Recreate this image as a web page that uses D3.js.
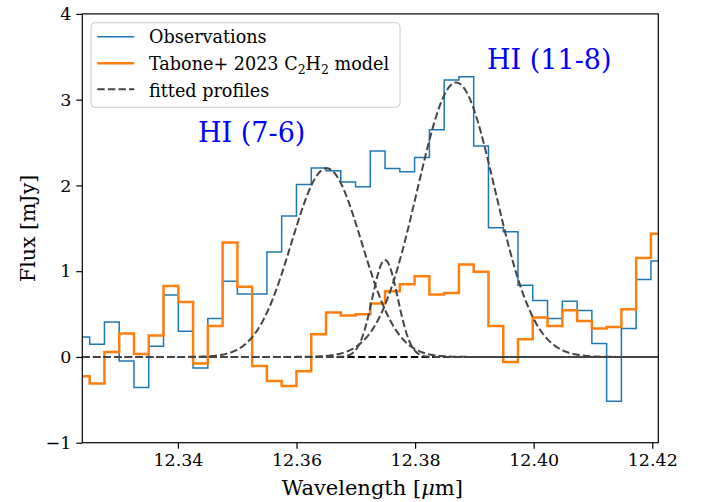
<!DOCTYPE html>
<html lang="en">
<head>
<meta charset="utf-8">
<title>HI lines</title>
<script src="https://d3js.org/d3.v7.min.js"></script>
<style>
  html, body { margin: 0; padding: 0; background: #fff; }
  svg { display: block; font-family: "DejaVu Serif", serif; }
  .tick text { font-family: "DejaVu Serif", serif; font-size: 17.5px; fill: #000; }
  .tick line { stroke: #000; stroke-width: 1.2; }
  .domain { display: none; }
</style>
</head>
<body>
<script>
// wavelength grid (bin centres, micron)
var wave = [12.32387, 12.32636, 12.32885, 12.33134, 12.33383, 12.33632, 12.33882, 12.34131,
            12.34380, 12.34629, 12.34878, 12.35127, 12.35376, 12.35625, 12.35874, 12.36124,
            12.36373, 12.36622, 12.36871, 12.37120, 12.37369, 12.37618, 12.37867, 12.38116,
            12.38366, 12.38615, 12.38864, 12.39113, 12.39362, 12.39611, 12.39860, 12.40109,
            12.40358, 12.40608, 12.40857, 12.41106, 12.41355, 12.41604, 12.41853, 12.42102];
// observed flux (mJy)
var obs = [0.233, 0.148, 0.408, -0.047, -0.357, 0.125, 0.723, 0.30, -0.128, 0.448,
           0.883, 0.735, 0.735, 1.225, 1.642, 2.012, 2.202, 2.17, 2.04, 1.984,
           2.40, 2.198, 2.159, 2.327, 2.649, 3.229, 3.267, 2.459, 1.505, 1.459,
           0.837, 0.658, 0.448, 0.65, 0.541, 0.156, -0.517, 0.331, 0.903, 1.12];
// Tabone+ 2023 C2H2 model (mJy)
var model = [-0.225, -0.31, 0.058, 0.273, 0.035, 0.25, 0.828, 0.642, -0.077, 0.362,
             1.333, 0.817, -0.105, -0.28, -0.338, -0.167, 0.265, 0.518, 0.483, 0.498,
             0.623, 0.767, 0.848, 0.942, 0.728, 0.747, 1.078, 0.992, 0.362, -0.058,
             0.207, 0.46, 0.362, 0.545, 0.42, 0.331, 0.35, 0.557, 1.155, 1.435];
// fitted gaussian profiles
var gCenter = [12.36508, 12.37493, 12.38693];
var gAmp    = [2.2, 1.13, 3.2];
var gSigma  = [0.005914, 0.002153, 0.00658];

var xTicks = [12.34, 12.36, 12.38, 12.40, 12.42];
var yTicks = [-1, 0, 1, 2, 3, 4];

var W = 702, H = 502;
var L = 82.3, R = 658.3, T = 13.9, B = 442.7;

var svg = d3.select("body").append("svg").attr("width", W).attr("height", H);

var x = d3.scaleLinear().domain([wave[0], wave[wave.length - 1]]).range([L, R]);
var y = d3.scaleLinear().domain([-1, 4]).range([B, T]);

svg.append("clipPath").attr("id", "clip")
  .append("rect").attr("x", L).attr("y", T).attr("width", R - L).attr("height", B - T);

var plot = svg.append("g").attr("clip-path", "url(#clip)");

var step = d3.line().curve(d3.curveStep)
  .x(function(d){ return x(d[0]); })
  .y(function(d){ return y(d[1]); });

plot.append("path")
  .attr("d", step(wave.map(function(w, i){ return [w, obs[i]]; })))
  .attr("fill", "none").attr("stroke", "#1f77b4").attr("stroke-width", 1.5);

plot.append("path")
  .attr("d", step(wave.map(function(w, i){ return [w, model[i]]; })))
  .attr("fill", "none").attr("stroke", "#ff7f0e").attr("stroke-width", 2.5);

// zero level
plot.append("line")
  .attr("x1", L).attr("x2", R).attr("y1", y(0)).attr("y2", y(0))
  .attr("stroke", "#000").attr("stroke-width", 2).attr("stroke-dasharray", "7.4,3.2");

// gaussian profiles
var smooth = d3.line()
  .x(function(d){ return x(d[0]); })
  .y(function(d){ return y(d[1]); });
var xs = d3.range(0, 401).map(function(k){ return x.invert(L + (R - L) * k / 400); });
gCenter.forEach(function(c, j){
  var pts = xs.map(function(w){
    return [w, gAmp[j] * Math.exp(-0.5 * Math.pow((w - c) / gSigma[j], 2))];
  });
  plot.append("path").attr("d", smooth(pts))
    .attr("fill", "none").attr("stroke", "#444").attr("stroke-width", 2)
    .attr("stroke-dasharray", "7.4,3.2");
});

// axes
var xAxis = svg.append("g").attr("transform", "translate(0," + B + ")")
  .call(d3.axisBottom(x).tickValues(xTicks).tickSize(6).tickPadding(5)
        .tickFormat(d3.format(".2f")));
xAxis.selectAll(".tick text").attr("dy", "0.71em");

svg.append("g").attr("transform", "translate(" + L + ",0)")
  .call(d3.axisLeft(y).tickValues(yTicks).tickSize(6).tickPadding(5)
        .tickFormat(function(d){ return d < 0 ? "\u2212" + Math.abs(d) : d; }));

svg.append("rect").attr("x", L).attr("y", T).attr("width", R - L).attr("height", B - T)
  .attr("fill", "none").attr("stroke", "#000").attr("stroke-width", 1.2);

// line labels
svg.append("text").attr("x", 198).attr("y", 142).attr("fill", "#0000ff")
  .style("font-size", "27px").text("HI (7-6)");
svg.append("text").attr("x", 487).attr("y", 69).attr("fill", "#0000ff")
  .style("font-size", "27px").text("HI (11-8)");

// axis titles
svg.append("text").attr("x", (L + R) / 2 + 2).attr("y", 495).attr("text-anchor", "middle")
  .style("font-size", "21px")
  .html('Wavelength [<tspan font-style="italic">\u03bc</tspan>m]');
svg.append("text").attr("transform", "translate(35," + ((T + B) / 2) + ") rotate(-90)")
  .attr("text-anchor", "middle").style("font-size", "20.5px").text("Flux [mJy]");

// legend
var lg = svg.append("g");
lg.append("rect").attr("x", 91).attr("y", 22.7).attr("width", 309).attr("height", 84.6)
  .attr("rx", 4).attr("fill", "#fff").attr("fill-opacity", 0.8)
  .attr("stroke", "#ccc").attr("stroke-width", 1);
var items = [
  {y: 36.7, stroke: "#1f77b4", w: 1.5, dash: null},
  {y: 63.3, stroke: "#ff7f0e", w: 2.5, dash: null},
  {y: 89.3, stroke: "#444", w: 2, dash: "7.4,3.2"}
];
items.forEach(function(it){
  lg.append("line").attr("x1", 97.3).attr("x2", 134.3).attr("y1", it.y).attr("y2", it.y)
    .attr("stroke", it.stroke).attr("stroke-width", it.w).attr("stroke-dasharray", it.dash);
});
lg.append("text").attr("x", 149).attr("y", 43.3).style("font-size", "17.6px").text("Observations");
lg.append("text").attr("x", 149).attr("y", 70).style("font-size", "17.6px")
  .html('Tabone+ 2023 C<tspan font-size="12.5px" dy="4">2</tspan><tspan dy="-4">H</tspan><tspan font-size="12.5px" dy="4">2</tspan><tspan dy="-4"> model</tspan>');
lg.append("text").attr("x", 149).attr("y", 96.5).style("font-size", "17.6px").text("fitted profiles");
</script>
</body>
</html>
